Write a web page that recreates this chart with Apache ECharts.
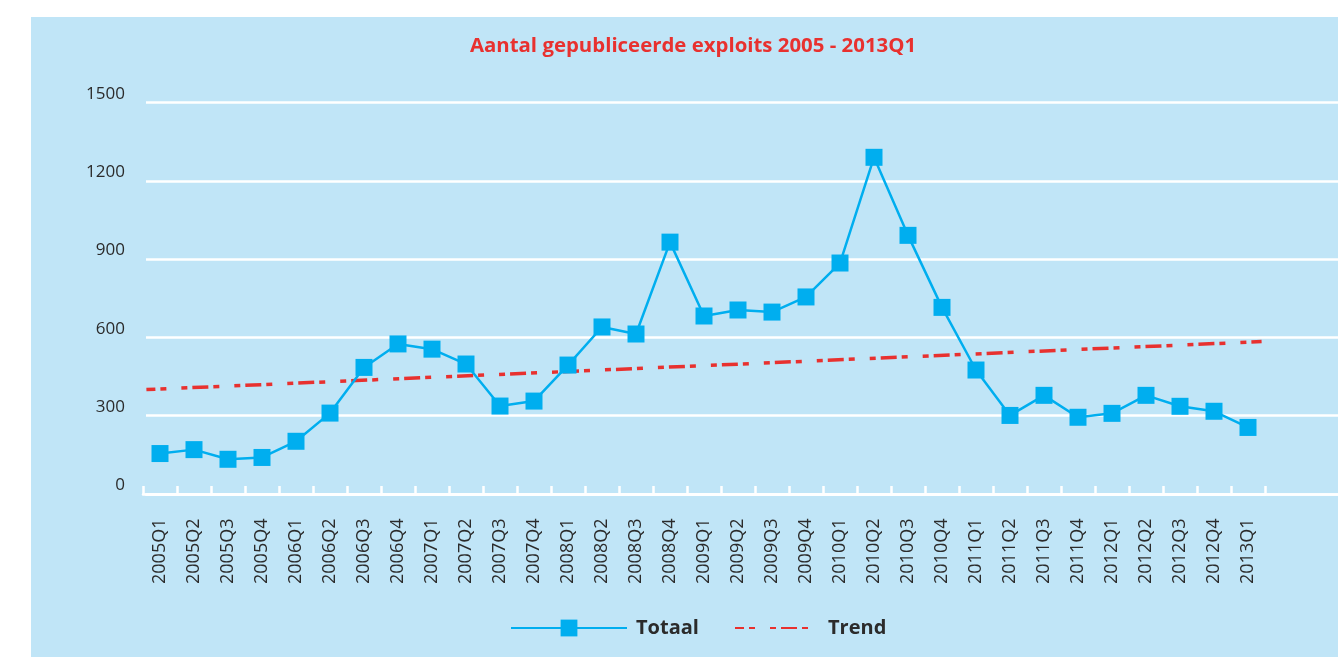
<!DOCTYPE html>
<html>
<head>
<meta charset="utf-8">
<title>Aantal gepubliceerde exploits</title>
<script src="https://cdn.jsdelivr.net/npm/echarts@6/dist/echarts.min.js"></script>
<style>
  html, body {
    margin: 0;
    padding: 0;
    background: #ffffff;
  }
  #chart {
    position: absolute;
    left: 31px;
    top: 17px;
    width: 1307px;
    height: 640px;
    background: #c0e5f7;
  }
</style>
</head>
<body>
<div id="chart"></div>
<script>
// kwartalen
const quarters = [
  '2005Q1', '2005Q2', '2005Q3', '2005Q4',
  '2006Q1', '2006Q2', '2006Q3', '2006Q4',
  '2007Q1', '2007Q2', '2007Q3', '2007Q4',
  '2008Q1', '2008Q2', '2008Q3', '2008Q4',
  '2009Q1', '2009Q2', '2009Q3', '2009Q4',
  '2010Q1', '2010Q2', '2010Q3', '2010Q4',
  '2011Q1', '2011Q2', '2011Q3', '2011Q4',
  '2012Q1', '2012Q2', '2012Q3', '2012Q4',
  '2013Q1'
];

const totaal = [
  155, 170, 133, 140,
  202, 310, 485, 575,
  555, 498, 337, 356,
  494, 640, 613, 965,
  682, 705, 697, 755,
  885, 1290, 991, 715,
  475, 301, 378, 294,
  309, 378, 336, 317,
  255
];

// trendlijn: begin- en eindpunt (positie in kwartalen, waarde)
const trendX = [0.1, 32.9];
const trendY = [400, 584];

// y-as
const yTicks = [0, 300, 600, 900, 1200, 1500];

const blue = '#00aeef';
const red = '#e8312f';
const textColor = '#2b2b2b';
const font = 'Open Sans';

const chart = echarts.init(document.getElementById('chart'));

chart.setOption({
  animation: false,
  backgroundColor: 'transparent',
  title: {
    text: 'Aantal gepubliceerde exploits 2005 - 2013Q1',
    left: 657,
    top: 14,
    textAlign: 'center',
    textStyle: {
      color: red,
      fontSize: 20.4,
      fontWeight: 'bold',
      fontFamily: font
    }
  },
  legend: [
    {
      data: ['Totaal'],
      left: 474,
      top: 596,
      itemWidth: 116,
      itemHeight: 21,
      textStyle: {
        color: textColor,
        fontSize: 20,
        fontWeight: 'bold',
        fontFamily: font,
        padding: [0, 0, 0, 4]
      }
    },
    {
      data: ['Trend'],
      left: 698,
      top: 596,
      itemWidth: 88,
      itemHeight: 21,
      itemStyle: { opacity: 0 },
      textStyle: {
        color: textColor,
        fontSize: 20,
        fontWeight: 'bold',
        fontFamily: font
      }
    }
  ],
  grid: [
    // categorie-as met data
    { left: 112, right: 73, top: 85.5, bottom: 163 },
    // rasterlijnen die tot de rand doorlopen
    { left: 115, right: 0, top: 85.5, bottom: 163 }
  ],
  xAxis: [
    {
      type: 'category',
      gridIndex: 0,
      data: quarters,
      boundaryGap: true,
      z: 5,
      axisLine: { show: true, lineStyle: { color: '#ffffff', width: 2.5 } },
      axisTick: {
        show: true,
        inside: true,
        length: 8,
        interval: 0,
        lineStyle: { color: '#ffffff', width: 2.5 }
      },
      axisLabel: {
        interval: 0,
        rotate: 90,
        align: 'left',
        margin: 90,
        color: textColor,
        fontSize: 18,
        fontFamily: font
      },
      splitLine: { show: false }
    },
    {
      type: 'value',
      gridIndex: 1,
      min: 0,
      max: 1,
      axisLine: { show: true, onZero: false, lineStyle: { color: '#ffffff', width: 2.5 } },
      axisTick: { show: false },
      axisLabel: { show: false },
      splitLine: { show: false }
    },
    {
      // verborgen as voor de trendlijn
      type: 'value',
      gridIndex: 0,
      min: 0,
      max: quarters.length,
      show: false
    }
  ],
  yAxis: [
    {
      type: 'value',
      gridIndex: 0,
      min: yTicks[0],
      max: yTicks[yTicks.length - 1],
      interval: 300,
      axisLine: { show: false },
      axisTick: { show: false },
      splitLine: { show: false },
      axisLabel: {
        margin: 18,
        verticalAlign: 'bottom',
        formatter: (v) => String(v),
        color: textColor,
        fontSize: 17,
        fontFamily: font
      }
    },
    {
      type: 'value',
      gridIndex: 1,
      min: yTicks[0],
      max: yTicks[yTicks.length - 1],
      interval: 300,
      axisLine: { show: false },
      axisTick: { show: false },
      axisLabel: { show: false },
      splitLine: { lineStyle: { color: '#ffffff', width: 2.5 } }
    }
  ],
  series: [
    {
      name: 'Trend',
      type: 'line',
      xAxisIndex: 2,
      yAxisIndex: 0,
      data: trendX.map((x, i) => [x, trendY[i]]),
      symbol: 'none',
      z: 3,
      lineStyle: {
        color: red,
        width: 3.5,
        type: [16, 5, 6, 15, 6, 5],
        dashOffset: 7
      },
      itemStyle: { color: red }
    },
    {
      name: 'Totaal',
      type: 'line',
      xAxisIndex: 0,
      yAxisIndex: 0,
      data: totaal,
      symbol: 'rect',
      symbolSize: 17,
      z: 4,
      lineStyle: { color: blue, width: 2.5 },
      itemStyle: { color: blue }
    }
  ]
});

window.addEventListener('resize', () => {
  chart.resize();
});
</script>
</body>
</html>
